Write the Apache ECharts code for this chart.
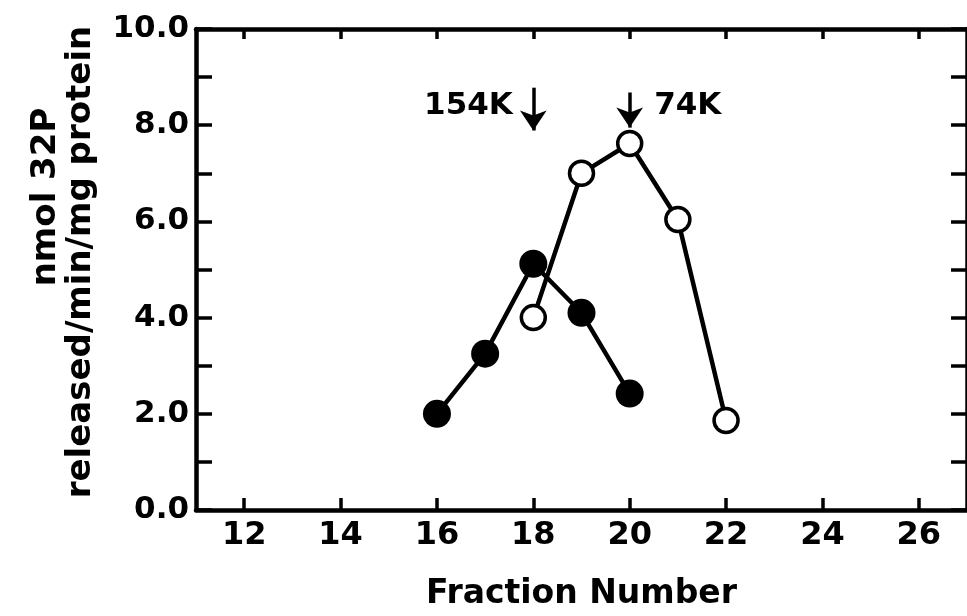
<!DOCTYPE html>
<html>
<head>
<meta charset="utf-8">
<script src="https://cdn.jsdelivr.net/npm/echarts@6/dist/echarts.min.js"></script>
<style>
  html, body { margin: 0; padding: 0; background: #fff; }
  #chart { width: 967px; height: 616px; }
</style>
</head>
<body>
<div id="chart"></div>
<script>
// Phosphatase activity across gel-filtration fractions
const fractionsFilled = [16, 17, 18, 19, 20];
const activityFilled = [2.0, 3.25, 5.12, 4.1, 2.42];
const fractionsOpen = [18, 19, 20, 21, 22];
const activityOpen = [4.0, 7.0, 7.62, 6.04, 1.86];

// Axis ticks
const xTickValues = [12, 14, 16, 18, 20, 22, 24, 26];
const yLabelValues = [0, 2, 4, 6, 8, 10];

// Molecular-weight markers (elution position of standards)
const mwFractions = [18, 20];
const mwLabels = ['154K', '74K'];
const mwSides = ['left', 'right'];

const FONT = '"DejaVu Sans", "Liberation Sans", Arial, sans-serif';
const INK = '#000';

const pairs = (xs, ys) => xs.map((x, i) => [x, ys[i]]);

const xAxisBase = {
  type: 'value', min: 11, max: 27,
  axisLine: { show: true, onZero: false, lineStyle: { color: INK, width: 4.5 } },
  splitLine: { show: false }
};
const yAxisBase = {
  type: 'value', min: 0, max: 10, interval: 1,
  axisLine: { show: true, onZero: false, lineStyle: { color: INK, width: 4.5 } },
  axisTick: { show: true, inside: true, length: 16, lineStyle: { color: INK, width: 3.5 } },
  splitLine: { show: false }
};

const chart = echarts.init(document.getElementById('chart'), null, { renderer: 'canvas' });

chart.setOption({
  animation: false,
  backgroundColor: '#fff',
  grid: { left: 196, right: -6, top: 29, bottom: 103, containLabel: false },
  xAxis: [
    Object.assign({}, xAxisBase, {
      position: 'bottom',
      name: 'Fraction Number',
      nameLocation: 'middle',
      nameGap: 68,
      nameTextStyle: { color: INK, fontFamily: FONT, fontWeight: 'bold', fontSize: 33 },
      axisTick: { show: true, inside: true, length: 12, customValues: xTickValues, lineStyle: { color: INK, width: 3.5 } },
      axisLabel: { show: true, customValues: xTickValues, margin: 10, color: INK, fontFamily: FONT, fontWeight: 'bold', fontSize: 32 }
    }),
    Object.assign({}, xAxisBase, {
      position: 'top',
      axisTick: { show: true, inside: true, length: 10, customValues: xTickValues, lineStyle: { color: INK, width: 3.5 } },
      axisLabel: { show: false }
    })
  ],
  yAxis: [
    Object.assign({}, yAxisBase, {
      position: 'left',
      axisLabel: {
        show: true, customValues: yLabelValues, margin: 7,
        color: INK, fontFamily: FONT, fontWeight: 'bold', fontSize: 31,
        formatter: v => v.toFixed(1)
      }
    }),
    Object.assign({}, yAxisBase, {
      position: 'right',
      axisLabel: { show: false }
    })
  ],
  graphic: [
    {
      type: 'text', x: 46, y: 197, rotation: Math.PI / 2,
      style: { text: 'nmol 32P', fill: INK, font: 'bold 34px ' + FONT, align: 'center', verticalAlign: 'middle' }
    },
    {
      type: 'text', x: 81, y: 262, rotation: Math.PI / 2,
      style: { text: 'released/min/mg protein', fill: INK, font: 'bold 34px ' + FONT, align: 'center', verticalAlign: 'middle' }
    }
  ],
  series: [
    {
      name: 'filled',
      type: 'line',
      data: pairs(fractionsFilled, activityFilled),
      symbol: 'circle',
      symbolSize: 28,
      lineStyle: { color: INK, width: 4.5 },
      itemStyle: { color: INK, borderColor: INK, borderWidth: 0 },
      z: 3
    },
    {
      name: 'open',
      type: 'line',
      data: pairs(fractionsOpen, activityOpen),
      symbol: 'circle',
      symbolSize: 24,
      lineStyle: { color: INK, width: 4.5 },
      itemStyle: { color: '#fff', borderColor: INK, borderWidth: 3.5 },
      z: 4
    },
    {
      name: 'markers',
      type: 'scatter',
      silent: true,
      symbolSize: 1,
      itemStyle: { color: 'rgba(0,0,0,0)', opacity: 1 },
      data: mwFractions.map((f, i) => ({
        value: [f, 8.39],
        name: mwLabels[i],
        label: {
          show: true,
          position: mwSides[i],
          distance: mwSides[i] === 'left' ? 20 : 24,
          formatter: '{b}',
          color: INK, opacity: 1, fontFamily: FONT, fontWeight: 'bold', fontSize: 31
        }
      })),
      markLine: {
        silent: true,
        symbol: ['none', 'arrow'],
        symbolSize: 20,
        label: { show: false },
        lineStyle: { color: INK, width: 3.5, type: 'solid', opacity: 1 },
        itemStyle: { color: INK },
        data: [
          [{ coord: [mwFractions[0], 8.78] }, { coord: [mwFractions[0], 7.89] }],
          [{ coord: [mwFractions[1], 8.68] }, { coord: [mwFractions[1], 7.95] }]
        ]
      }
    }
  ]
});
</script>
</body>
</html>
